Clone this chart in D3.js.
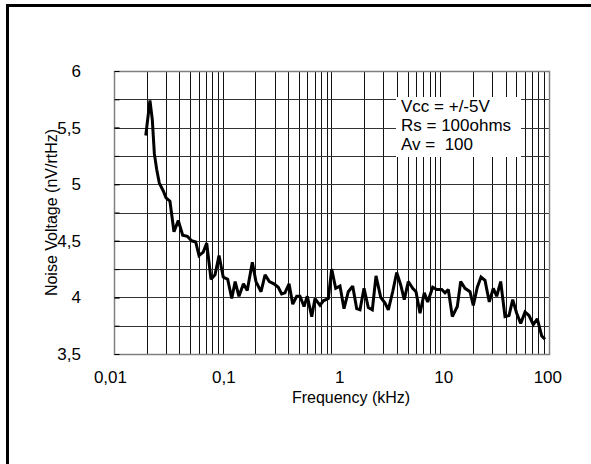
<!DOCTYPE html>
<html>
<head>
<meta charset="utf-8">
<script src="https://cdn.jsdelivr.net/npm/d3@7"></script>
<style>
  html, body { margin: 0; padding: 0; background: #fff; overflow: hidden; }
  svg { display: block; }
  text { font-family: "Liberation Sans", Arial, sans-serif; fill: #000; }
</style>
</head>
<body>
<svg id="chart" width="591" height="464"></svg>
<script>
// ---- data ----
const frequencyKHz = [
  0.0196, 0.0214, 0.0225, 0.0235, 0.0247, 0.0261, 0.0284, 0.0301, 0.0327, 0.0356,
  0.0390, 0.0428, 0.0472, 0.0518, 0.0564, 0.0605, 0.0662, 0.0712, 0.0780, 0.0849,
  0.0924, 0.101, 0.111, 0.121, 0.130, 0.141, 0.155, 0.168, 0.187, 0.202,
  0.225, 0.245, 0.268, 0.296, 0.324, 0.348, 0.373, 0.407, 0.440, 0.479,
  0.513, 0.559, 0.599, 0.658, 0.705, 0.784, 0.841, 0.935, 1.004, 1.093,
  1.197, 1.303, 1.427, 1.566, 1.705, 1.828, 1.991, 2.18, 2.373, 2.566,
  2.835, 3.105, 3.329, 3.654, 3.977, 4.329, 4.67, 5.085, 5.58, 5.984,
  6.514, 7.135, 7.668, 8.523, 9.277, 10.31, 11.06, 11.86, 12.91, 14.35,
  15.42, 16.89, 18.78, 20.13, 21.92, 23.70, 25.79, 28.25, 30.75, 33.04,
  35.95, 39.39, 42.88, 46.37, 50.46, 54.93, 60.16, 65.48, 71.72, 78.06,
  85.70, 91.89
];
const noiseVoltage = [
  5.43, 5.74, 5.57, 5.27, 5.13, 5.01, 4.94, 4.88, 4.85, 4.58,
  4.68, 4.55, 4.54, 4.50, 4.49, 4.37, 4.40, 4.48, 4.16, 4.20,
  4.37, 4.18, 4.16, 3.99, 4.14, 4.01, 4.12, 4.06, 4.31, 4.14,
  4.05, 4.20, 4.14, 4.12, 4.09, 4.03, 4.04, 4.12, 3.94, 4.01,
  4.01, 3.92, 4.01, 3.83, 3.99, 3.93, 3.97, 3.99, 4.25, 4.08,
  4.10, 3.90, 4.05, 4.10, 3.90, 3.89, 4.08, 3.91, 3.89, 4.19,
  4.00, 3.95, 3.89, 4.05, 4.22, 4.11, 3.98, 4.14, 4.08, 4.05,
  3.86, 4.04, 3.96, 4.09, 4.07, 4.07, 4.04, 4.07, 3.83, 3.92,
  4.14, 4.08, 4.05, 3.93, 4.09, 4.18, 4.15, 3.96, 4.08, 4.01,
  4.14, 3.83, 3.84, 3.98, 3.86, 3.77, 3.87, 3.84, 3.76, 3.81,
  3.66, 3.63
];
const xTickValues = [0.01, 0.1, 1, 10, 100];
const xTickLabels = ["0,01", "0,1", "1", "10", "100"];
const yTickValues = [3.5, 4, 4.5, 5, 5.5, 6];
const yTickLabels = ["3,5", "4", "4,5", "5", "5,5", "6"];
const yGridValues = [3.75, 4, 4.25, 4.5, 4.75, 5, 5.25, 5.5, 5.75];
const annotationLines = ["Vcc = +/-5V", "Rs = 100ohms", "Av =  100"];
const xTitle = "Frequency (kHz)";
const yTitle = "Noise Voltage (nV/rtHz)";

// ---- layout ----
const plot = { left: 114, top: 71, right: 549, bottom: 354 };
const svg = d3.select("#chart");

// outer frame (extends beyond the right/bottom of the picture)
svg.append("rect")
  .attr("x", 7.5).attr("y", 5.5).attr("width", 700).attr("height", 600)
  .attr("fill", "none").attr("stroke", "#000").attr("stroke-width", 3);

const x = d3.scaleLog().domain([0.01, 100]).range([plot.left, plot.right]);
const y = d3.scaleLinear().domain([3.5, 6]).range([plot.bottom, plot.top]);

// vertical grid: all minor (2..9) and inner decade lines
const xGrid = [];
for (let d = -2; d < 2; d++) {
  for (let m = 1; m <= 9; m++) {
    const v = m * Math.pow(10, d);
    if (v > 0.01 && v < 100) xGrid.push(+v.toPrecision(3));
  }
}
svg.append("g").selectAll("line").data(xGrid).join("line")
  .attr("x1", d => Math.round(x(d)) + 0.5).attr("x2", d => Math.round(x(d)) + 0.5)
  .attr("y1", plot.top).attr("y2", plot.bottom)
  .attr("stroke", "#111").attr("stroke-width", 1);

// horizontal grid
svg.append("g").selectAll("line").data(yGridValues).join("line")
  .attr("x1", plot.left).attr("x2", plot.right)
  .attr("y1", d => Math.round(y(d)) + 0.5).attr("y2", d => Math.round(y(d)) + 0.5)
  .attr("stroke", "#333").attr("stroke-width", 1);

// plot border
svg.append("rect")
  .attr("x", plot.left + 0.5).attr("y", plot.top + 0.5)
  .attr("width", plot.right - plot.left).attr("height", plot.bottom - plot.top)
  .attr("fill", "none").attr("stroke", "#808080").attr("stroke-width", 1.5);

// left axis with inward ticks
const yAxis = d3.axisLeft(y).tickValues(yGridValues.concat(yTickValues))
  .tickSize(-5).tickFormat("");
svg.append("g").attr("transform", `translate(${plot.left + 0.5},0)`).call(yAxis)
  .call(g => g.select(".domain").remove())
  .call(g => g.selectAll(".tick line").attr("stroke", "#000"));

// y tick labels
svg.append("g").selectAll("text").data(yTickValues).join("text")
  .attr("x", 81).attr("y", d => y(d))
  .attr("dy", "0.35em").attr("text-anchor", "end")
  .style("font-size", "17px")
  .text((d, i) => yTickLabels[i]);

// x tick labels (right-aligned just past each decade line, as in the source)
svg.append("g").selectAll("text").data(xTickValues).join("text")
  .attr("x", d => x(d) + 13).attr("y", 383)
  .attr("text-anchor", "end")
  .style("font-size", "17px")
  .text((d, i) => xTickLabels[i]);

// annotation box
const ann = svg.append("g");
ann.append("rect").attr("x", 396).attr("y", 97).attr("width", 125).attr("height", 60)
  .attr("fill", "#fff");
ann.selectAll("text").data(annotationLines).join("text")
  .attr("x", 401).attr("y", (d, i) => 112 + i * 19)
  .style("font-size", "17px")
  .attr("xml:space", "preserve").style("white-space", "pre")
  .text(d => d);

// data line
const line = d3.line()
  .x((d, i) => x(frequencyKHz[i]))
  .y(d => y(d));
svg.append("path").datum(noiseVoltage)
  .attr("d", line)
  .attr("fill", "none").attr("stroke", "#000").attr("stroke-width", 3)
  .attr("stroke-linejoin", "miter").attr("stroke-miterlimit", 2);

// axis titles
svg.append("text").attr("x", 351).attr("y", 403).attr("text-anchor", "middle")
  .style("font-size", "16px").text(xTitle);
svg.append("text")
  .attr("transform", `translate(57,${(plot.top + plot.bottom) / 2}) rotate(-90)`)
  .attr("text-anchor", "middle")
  .style("font-size", "16px").text(yTitle);
</script>
</body>
</html>
